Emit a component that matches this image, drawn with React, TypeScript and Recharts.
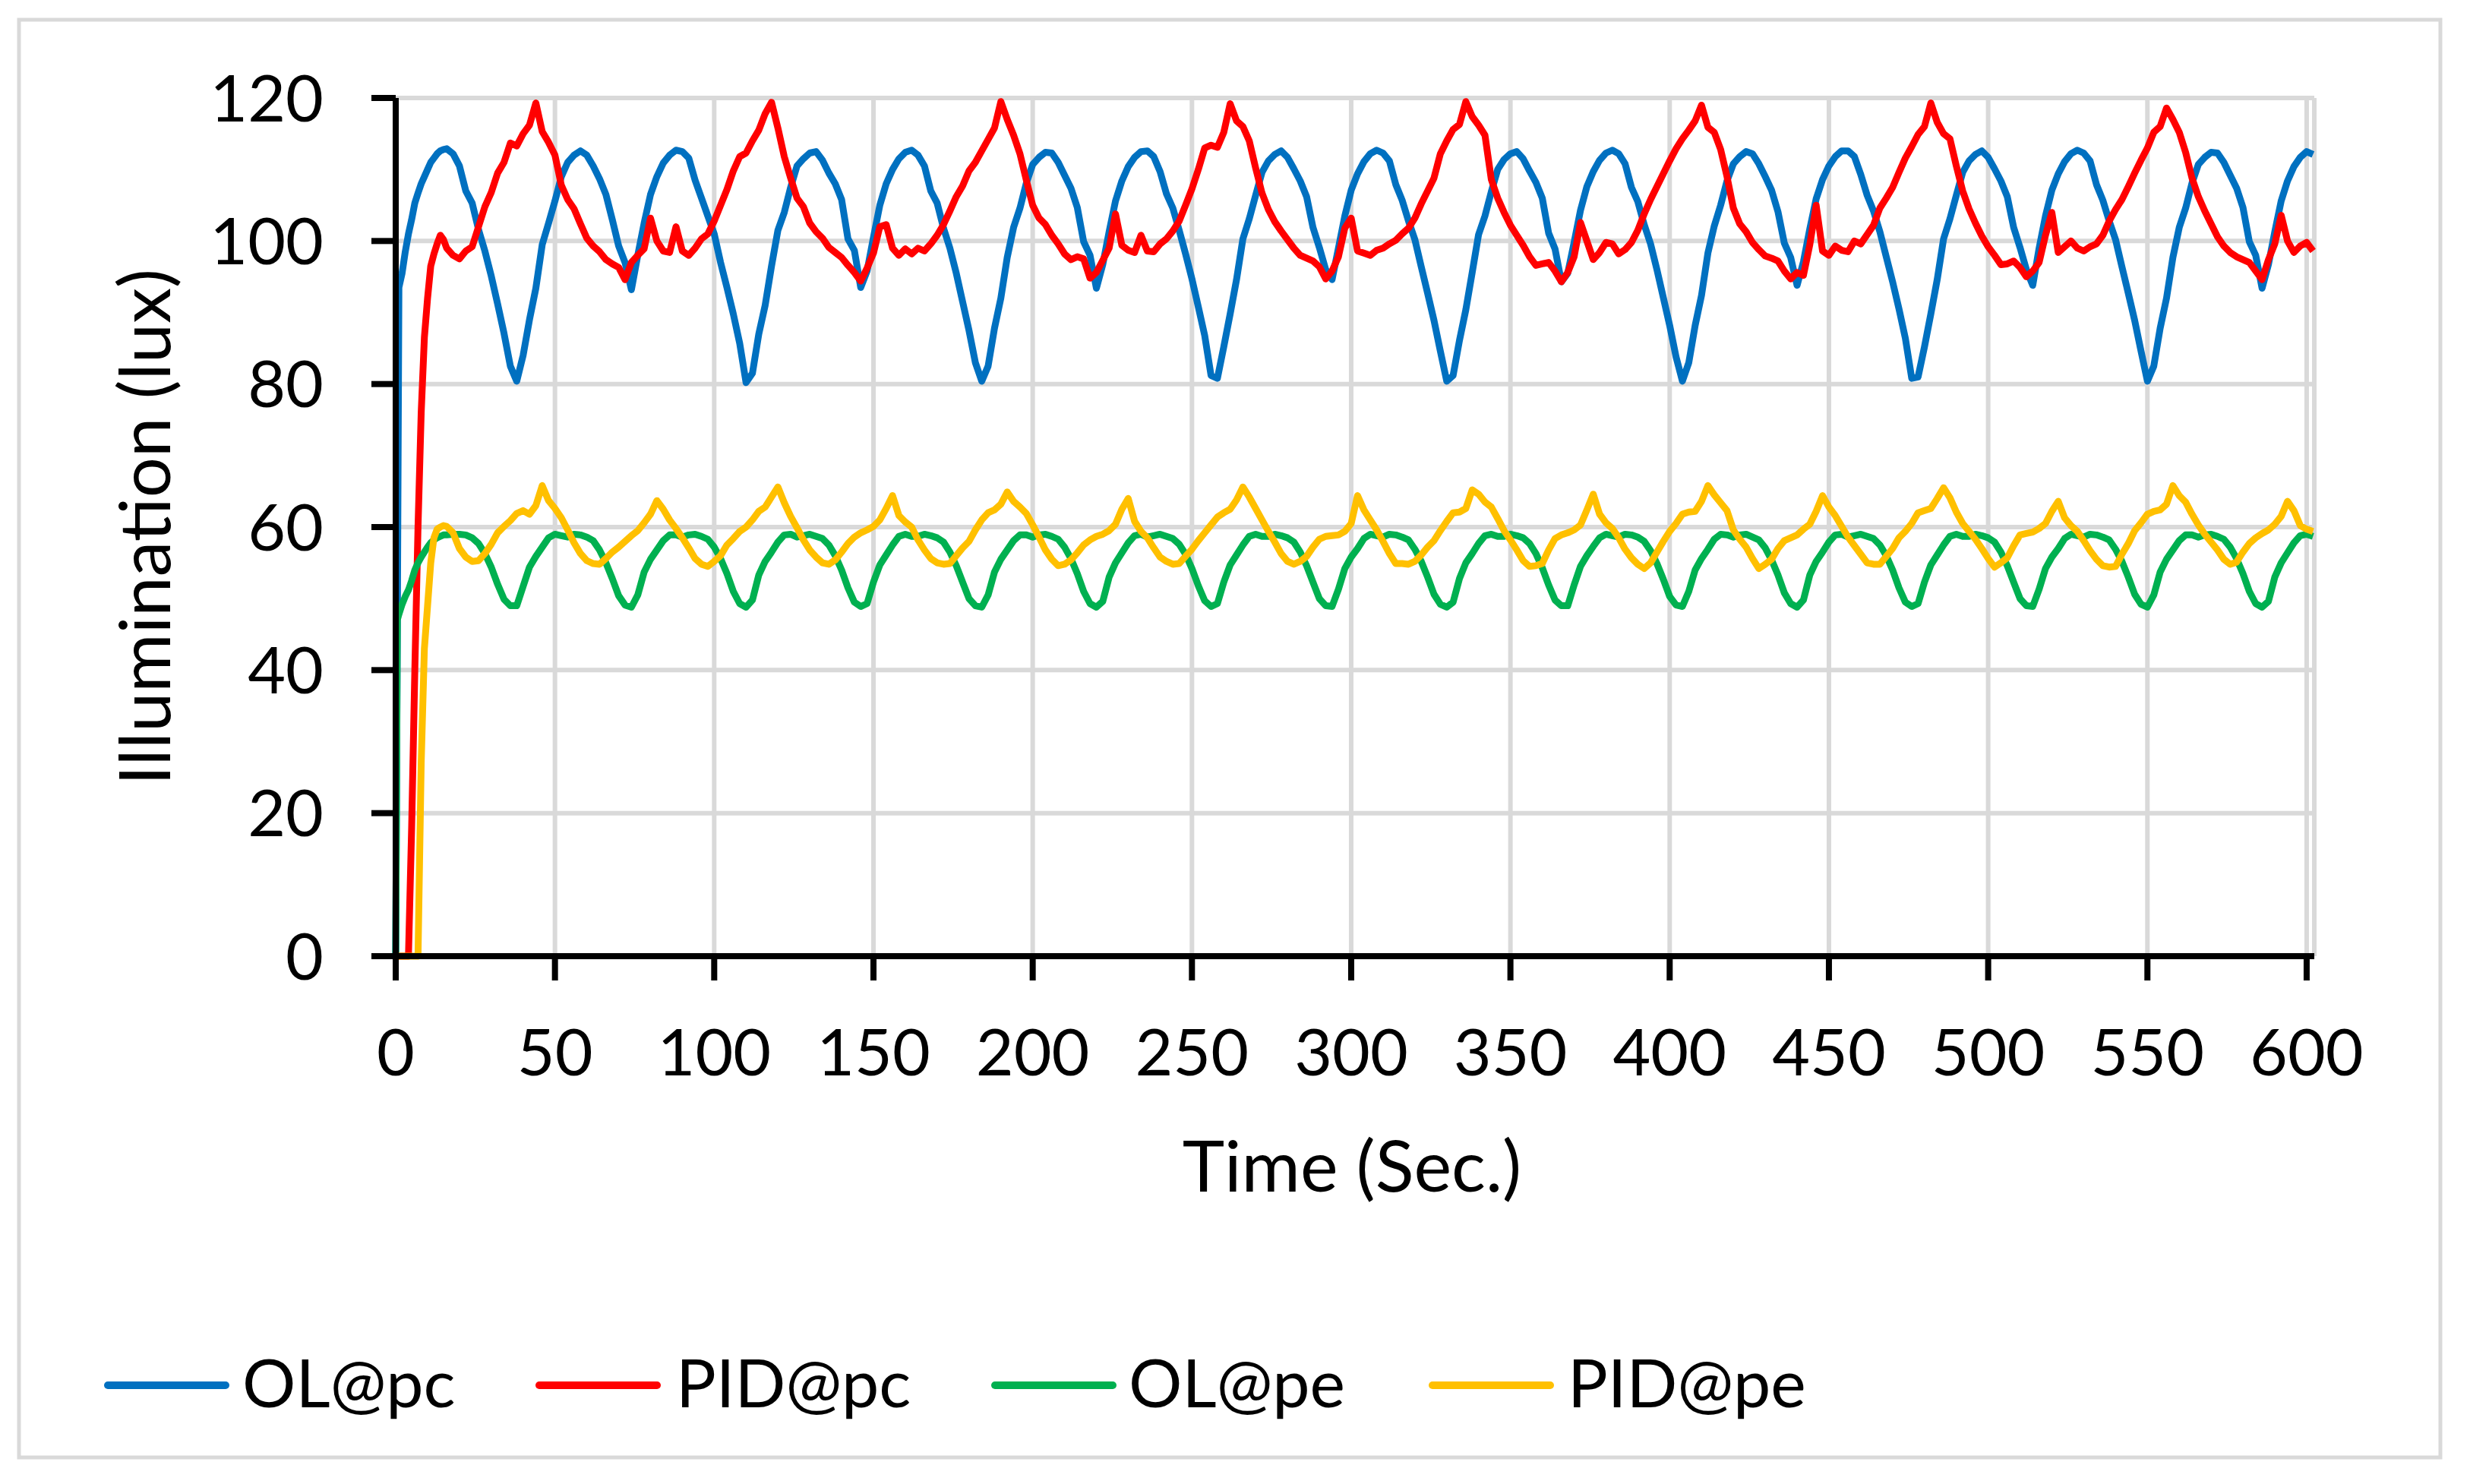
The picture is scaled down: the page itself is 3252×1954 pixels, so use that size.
import { LineChart, Line, XAxis, YAxis, CartesianGrid } from 'recharts'

const time = [
  0, 0.5, 1, 2, 3, 4, 5, 6, 7, 8, 9, 10, 11, 12, 13, 14, 15, 16,
  18, 20, 22, 24, 26, 28, 30, 32, 34, 36,
  38, 40, 42, 44, 46, 48, 50, 52, 54, 56,
  58, 60, 62, 64, 66, 68, 70, 72, 74, 76,
  78, 80, 82, 84, 86, 88, 90, 92, 94, 96,
  98, 100, 102, 104, 106, 108, 110, 112, 114, 116,
  118, 120, 122, 124, 126, 128, 130, 132, 134, 136,
  138, 140, 142, 144, 146, 148, 150, 152, 154, 156,
  158, 160, 162, 164, 166, 168, 170, 172, 174, 176,
  178, 180, 182, 184, 186, 188, 190, 192, 194, 196,
  198, 200, 202, 204, 206, 208, 210, 212, 214, 216,
  218, 220, 222, 224, 226, 228, 230, 232, 234, 236,
  238, 240, 242, 244, 246, 248, 250, 252, 254, 256,
  258, 260, 262, 264, 266, 268, 270, 272, 274, 276,
  278, 280, 282, 284, 286, 288, 290, 292, 294, 296,
  298, 300, 302, 304, 306, 308, 310, 312, 314, 316,
  318, 320, 322, 324, 326, 328, 330, 332, 334, 336,
  338, 340, 342, 344, 346, 348, 350, 352, 354, 356,
  358, 360, 362, 364, 366, 368, 370, 372, 374, 376,
  378, 380, 382, 384, 386, 388, 390, 392, 394, 396,
  398, 400, 402, 404, 406, 408, 410, 412, 414, 416,
  418, 420, 422, 424, 426, 428, 430, 432, 434, 436,
  438, 440, 442, 444, 446, 448, 450, 452, 454, 456,
  458, 460, 462, 464, 466, 468, 470, 472, 474, 476,
  478, 480, 482, 484, 486, 488, 490, 492, 494, 496,
  498, 500, 502, 504, 506, 508, 510, 512, 514, 516,
  518, 520, 522, 524, 526, 528, 530, 532, 534, 536,
  538, 540, 542, 544, 546, 548, 550, 552, 554, 556,
  558, 560, 562, 564, 566, 568, 570, 572, 574, 576,
  578, 580, 582, 584, 586, 588, 590, 592, 594, 596,
  598, 600, 602,
]

// OL@pc
const olPc = [
  0, 45, 93.5, 95.5, 98.5, 101, 103, 105.3, 106.7, 108, 109, 110, 111, 111.6, 112.2, 112.6, 112.8, 112.9,
  112.2, 110.5, 107, 105.3, 101.6, 98.6, 95.1, 91.2, 87.1, 82.5,
  80.4, 84, 89, 93.4, 99.5, 102.5, 105.6, 109, 111, 112,
  112.6, 112, 110.5, 108.7, 106.5, 103, 99.3, 97, 93.2, 98,
  102.5, 106.5, 109, 110.9, 112, 112.7, 112.5, 111.6, 108.5, 106,
  103.5, 101, 97, 93.5, 89.8, 85.7, 80.2, 81.5, 87, 91,
  96.5, 101.5, 104, 107.5, 110.5, 111.5, 112.3, 112.5, 111.3, 109.5,
  108, 105.8, 100.3, 98.7, 93.5, 95.8, 100.5, 105, 108, 110,
  111.5, 112.4, 112.7, 112, 110.5, 107, 105.3, 101.8, 99, 95.5,
  91.5, 87.5, 83, 80.4, 82.5, 87.8, 92, 97.7, 101.9, 104.6,
  108.1, 110.7, 111.7, 112.4, 112.3, 111, 109.2, 107.4, 104.7, 99.9,
  98, 93.4, 96.7, 101.3, 105.6, 108.4, 110.4, 111.7, 112.5, 112.6,
  111.8, 109.7, 106.6, 104.6, 101.5, 98.2, 94.7, 90.8, 86.8, 81.2,
  80.8, 85.2, 89.8, 94.6, 100.3, 103.1, 106.4, 109.6, 111.2, 112.1,
  112.6, 111.7, 110.1, 108.4, 106.2, 101.9, 99.1, 96, 94.6, 99,
  103.5, 107.1, 109.4, 111.1, 112.2, 112.7, 112.3, 111.2, 107.9, 105.7,
  102.8, 100.2, 96.4, 92.7, 88.9, 84.6, 80.4, 81.2, 86.1, 90.4,
  95.6, 100.9, 103.5, 106.9, 110, 111.4, 112.2, 112.5, 111.5, 109.8,
  108.2, 106, 101.1, 98.9, 94.3, 95.5, 99.8, 104.3, 107.6, 109.7,
  111.3, 112.3, 112.7, 112.2, 110.8, 107.5, 105.5, 102.3, 99.6, 96,
  92.1, 88.2, 83.8, 80.4, 83, 88.2, 92.4, 98.3, 102.1, 105,
  108.4, 110.8, 111.8, 112.5, 112.2, 110.8, 109, 107.1, 104.1, 99.7,
  97.7, 93.8, 97.1, 101.7, 105.9, 108.6, 110.5, 111.8, 112.6, 112.6,
  111.8, 109.3, 106.4, 104.2, 101.3, 97.8, 94.3, 90.5, 86.4, 80.8,
  81, 85.2, 89.8, 94.6, 100.3, 103.1, 106.4, 109.6, 111.2, 112.1,
  112.6, 111.7, 110.1, 108.4, 106.2, 101.9, 99.1, 96, 93.8, 99,
  103.5, 107.1, 109.4, 111.1, 112.2, 112.7, 112.3, 111.2, 107.9, 105.7,
  102.8, 100.2, 96.4, 92.7, 88.9, 84.6, 80.4, 82.5, 87.8, 92,
  97.7, 101.9, 104.6, 108.1, 110.7, 111.7, 112.4, 112.3, 111, 109.2,
  107.4, 104.7, 99.9, 98, 93.4, 96.7, 101.3, 105.6, 108.4, 110.4,
  111.7, 112.5, 112.1,
]

// PID@pc
const pidPc = [
  0, 0, 0, 0, 0, 0, 18, 40, 60, 76, 86.5, 92, 96.5, 98.2, 99.6, 100.8, 100.2, 99,
  98, 97.5, 98.6, 99.2, 102, 104.8, 106.8, 109.5, 111, 113.7,
  113.3, 115, 116.2, 119.3, 115.3, 113.8, 112, 107.8, 105.8, 104.5,
  102.4, 100.4, 99.3, 98.5, 97.4, 96.8, 96.3, 94.6, 97, 98,
  98.9, 103.2, 100, 98.6, 98.4, 102, 98.6, 98, 99, 100.3,
  101, 102.8, 105, 107.2, 109.8, 111.8, 112.3, 114, 115.5, 117.8,
  119.4, 115.8, 111.8, 108.8, 106, 104.8, 102.5, 101.3, 100.4, 99.1,
  98.4, 97.7, 96.6, 95.6, 94.4, 96.2, 98.3, 102, 102.3, 99,
  98, 98.9, 98.2, 99, 98.6, 99.6, 100.8, 102.3, 104.2, 106.2,
  107.7, 109.8, 111, 112.6, 114.2, 115.8, 119.5, 117, 114.8, 112.2,
  108.5, 105, 103.2, 102.3, 100.8, 99.6, 98.2, 97.4, 97.8, 97.5,
  94.8, 95.6, 97.3, 99, 103.8, 99.4, 98.7, 98.4, 100.8, 98.6,
  98.5, 99.6, 100.3, 101.4, 102.8, 105, 107.3, 110, 113, 113.4,
  113.1, 115.2, 119.2, 116.8, 116, 114, 110.2, 106.7, 104.4, 102.7,
  101.4, 100.2, 99, 98, 97.6, 97.2, 96.4, 94.7, 95.8, 97.8,
  101.8, 103.2, 98.6, 98.3, 98, 98.7, 99, 99.6, 100.1, 101,
  101.8, 103.2, 105.2, 107, 108.8, 112.2, 114, 115.6, 116.3, 119.5,
  117.4, 116.2, 114.8, 108.6, 106, 104, 102.2, 100.8, 99.4, 97.8,
  96.6, 96.8, 97, 95.8, 94.3, 95.6, 97.8, 102.6, 100, 97.4,
  98.4, 99.8, 99.6, 98.2, 98.8, 99.8, 101.5, 103.8, 105.8, 107.6,
  109.4, 111.2, 112.9, 114.3, 115.5, 116.8, 119, 115.9, 115.2, 112.8,
  109, 104.6, 102.4, 101.3, 99.8, 98.8, 97.9, 97.6, 97.2, 95.8,
  94.7, 95.6, 95.2, 99.5, 105, 98.6, 98, 99.3, 98.7, 98.5,
  100, 99.6, 100.9, 102.2, 104.6, 106, 107.5, 109.6, 111.6, 113.2,
  114.9, 116, 119.3, 116.6, 115, 114.3, 110.5, 107, 104.5, 102.5,
  100.7, 99.2, 98, 96.7, 96.8, 97.2, 96.3, 95, 95.8, 97,
  100.8, 104, 98.4, 99.2, 100, 99, 98.6, 99.2, 99.6, 100.8,
  102.8, 104.4, 105.8, 107.6, 109.5, 111.3, 113, 115.2, 116, 118.6,
  117, 115.2, 112.4, 108.8, 106.2, 104.2, 102.4, 100.6, 99.3, 98.4,
  97.8, 97.4, 97, 95.8, 94.6, 97.4, 99.6, 103.6, 100, 98.4,
  99.3, 99.8, 98.6,
]

// OL@pe
const olPe = [
  0, 47, 47.8, 49.2, 50.3, 51.2, 52.5, 54, 55, 55.8, 56.5, 57.2, 57.8, 58.2, 58.5, 58.7, 58.9, 58.9,
  59, 59, 58.9, 58.5, 57.7, 56.3, 54.4, 52, 49.9, 49,
  49, 51.7, 54.4, 55.9, 57.2, 58.5, 59, 58.8, 58.6, 59,
  58.9, 58.6, 58.1, 56.8, 55, 52.8, 50.4, 49.1, 48.8, 50.5,
  53.7, 55.5, 56.8, 58.1, 58.9, 58.9, 58.6, 58.9, 59, 58.7,
  58.3, 57.2, 55.6, 53.5, 51, 49.3, 48.8, 49.8, 53.3, 55.2,
  56.5, 57.9, 58.9, 59, 58.6, 58.8, 59, 58.7, 58.4, 57.5,
  56, 54, 51.5, 49.5, 48.9, 49.3, 52.3, 54.7, 56.1, 57.5,
  58.7, 59, 58.7, 58.7, 59, 58.8, 58.5, 57.9, 56.5, 54.6,
  52.3, 50, 49, 48.8, 50.5, 53.7, 55.5, 56.8, 58.1, 58.9,
  58.9, 58.6, 58.9, 59, 58.7, 58.3, 57.2, 55.6, 53.5, 51,
  49.3, 48.8, 49.6, 53, 55, 56.4, 57.8, 58.8, 59, 58.6,
  58.8, 59, 58.7, 58.4, 57.6, 56.2, 54.2, 51.8, 49.7, 48.9,
  49.3, 52.3, 54.7, 56.1, 57.5, 58.7, 59, 58.7, 58.7, 59,
  58.8, 58.5, 57.9, 56.5, 54.6, 52.3, 50, 49, 48.9, 51.3,
  54.2, 55.8, 57, 58.4, 59, 58.8, 58.6, 59, 58.9, 58.6,
  58.2, 56.9, 55.2, 53, 50.6, 49.2, 48.8, 49.5, 52.8, 55,
  56.3, 57.7, 58.8, 59, 58.7, 58.7, 59, 58.8, 58.5, 57.7,
  56.3, 54.3, 51.9, 49.8, 49, 49, 51.9, 54.5, 56, 57.3,
  58.5, 59, 58.8, 58.6, 59, 58.9, 58.6, 58, 56.7, 54.9,
  52.7, 50.3, 49.1, 48.9, 51, 54, 55.6, 56.9, 58.3, 59,
  58.9, 58.6, 58.9, 59, 58.6, 58.2, 57.1, 55.4, 53.3, 50.8,
  49.3, 48.8, 49.8, 53.3, 55.2, 56.5, 57.9, 58.9, 59, 58.6,
  58.8, 59, 58.7, 58.4, 57.5, 56, 54, 51.5, 49.5, 48.9,
  49.3, 52.3, 54.7, 56.1, 57.5, 58.7, 59, 58.7, 58.7, 59,
  58.8, 58.5, 57.9, 56.5, 54.6, 52.3, 50, 49, 48.9, 51.3,
  54.2, 55.8, 57, 58.4, 59, 58.8, 58.6, 59, 58.9, 58.6,
  58.2, 56.9, 55.2, 53, 50.6, 49.2, 48.8, 50.5, 53.7, 55.5,
  56.8, 58.1, 58.9, 58.9, 58.6, 58.9, 59, 58.7, 58.3, 57.2,
  55.6, 53.5, 51, 49.3, 48.8, 49.6, 53, 55, 56.4, 57.8,
  58.8, 59, 58.7,
]

// PID@pe
const pidPe = [
  0, 0, 0, 0, 0, 0, 0, 0, 0, 27, 43, 49, 55, 58.5, 59.7, 60, 60.2, 60.1,
  59.2, 57, 55.8, 55.2, 55.3, 56.3, 57.6, 59.2, 60.1, 60.9,
  61.9, 62.3, 61.8, 63, 65.8, 63.7, 62.6, 61.3, 59.6, 57.8,
  56.3, 55.3, 54.9, 54.8, 55.6, 56.5, 57.2, 58, 58.8, 59.5,
  60.6, 61.8, 63.7, 62.5, 61, 59.8, 58.5, 57.1, 55.6, 54.8,
  54.5, 55.2, 56, 57.5, 58.4, 59.4, 60, 61, 62.2, 62.8,
  64.2, 65.6, 63.4, 61.5, 59.9, 58.2, 56.8, 55.8, 55, 54.8,
  55.4, 56.5, 57.7, 58.6, 59.2, 59.6, 60.1, 61, 62.6, 64.4,
  61.6, 60.7, 60, 58.2, 56.8, 55.6, 55, 54.8, 54.9, 56,
  57.1, 58, 59.6, 61, 62, 62.4, 63.2, 64.9, 63.6, 62.8,
  61.9, 60.3, 58.6, 56.8, 55.5, 54.6, 54.8, 55.4, 56.4, 57.5,
  58.2, 58.7, 59, 59.5, 60.4, 62.5, 64, 60.8, 59.4, 58.5,
  57.1, 55.8, 55.2, 54.8, 54.9, 55.9, 56.9, 58.1, 59.2, 60.3,
  61.4, 62, 62.5, 63.8, 65.6, 64.2, 62.6, 61, 59.4, 57.9,
  56.3, 55.2, 54.8, 55.2, 55.9, 57.2, 58.3, 58.7, 58.8, 58.9,
  59.4, 60.5, 64.4, 62.4, 61, 59.6, 58, 56.3, 54.9, 54.9,
  54.8, 55.2, 56.1, 57.2, 58.1, 59.5, 60.8, 62, 62.1, 62.6,
  65.2, 64.6, 63.5, 62.8, 61.2, 59.5, 58.2, 56.8, 55.3, 54.5,
  54.6, 54.9, 56.8, 58.4, 58.9, 59.2, 59.6, 60.3, 62.4, 64.6,
  61.8, 60.6, 59.8, 58.5, 56.9, 55.7, 54.8, 54.2, 55, 56.5,
  58, 59.4, 60.5, 61.8, 62.1, 62.2, 63.6, 65.8, 64.5, 63.4,
  62.3, 59.6, 58.3, 57.2, 55.6, 54.2, 54.8, 55.5, 57, 58.1,
  58.5, 58.9, 59.7, 60.4, 62.2, 64.4, 62.8, 61.6, 60.1, 58.6,
  57.4, 56.2, 55, 54.8, 54.8, 55.9, 57, 58.5, 59.4, 60.5,
  62, 62.3, 62.6, 64, 65.5, 64.1, 62.1, 60.5, 59.4, 58.3,
  57, 55.6, 54.4, 55, 55.7, 57.4, 58.9, 59.1, 59.3, 59.8,
  60.5, 62.2, 63.6, 61.3, 60.2, 59.4, 58.1, 56.7, 55.5, 54.6,
  54.4, 54.5, 56.2, 57.7, 59.5, 60.6, 61.8, 62.2, 62.4, 63.2,
  65.8, 64.4, 63.5, 61.8, 60.3, 59, 57.9, 56.8, 55.5, 54.8,
  55.1, 56.5, 57.7, 58.5, 59.1, 59.6, 60.4, 61.5, 63.6, 62.3,
  60.2, 59.7, 59.4,
]

const xTicks = [0, 50, 100, 150, 200, 250, 300, 350, 400, 450, 500, 550, 600]
const yTicks = [0, 20, 40, 60, 80, 100, 120]

const series = [
  { key: 'olPc', name: 'OL@pc', color: '#0070C0' },
  { key: 'pidPc', name: 'PID@pc', color: '#FF0000' },
  { key: 'olPe', name: 'OL@pe', color: '#00B050' },
  { key: 'pidPe', name: 'PID@pe', color: '#FFC000' },
]

const W = 3252
const H = 1954
const FONT = 'Lato, "Open Sans", sans-serif'
const TICK_FS = 86
const TITLE_FS = 94
const LEGEND_FS = 88

// legend item left edges (line start, text start)
const legendLineX = [137, 705, 1305, 1881]
const legendTextX = [319, 890, 1486, 2064]
const legendY = 1824

const data = time.map((t, i) => ({
  t,
  olPc: olPc[i],
  pidPc: pidPc[i],
  olPe: olPe[i],
  pidPe: pidPe[i],
}))

const axisStroke = { stroke: '#000', strokeWidth: 8 }
const tickStyle = { fill: '#000', fontSize: TICK_FS, fontFamily: FONT }

const YTitle = () => (
  <text
    x={224}
    y={694}
    transform="rotate(-90 224 694)"
    textAnchor="middle"
    fontSize={TITLE_FS}
    fontFamily={FONT}
    fill="#000"
  >
    Illumination (lux)
  </text>
)

const XTitle = () => (
  <text x={1780} y={1569} textAnchor="middle" fontSize={TITLE_FS} fontFamily={FONT} fill="#000">
    Time (Sec.)
  </text>
)

export default function App() {
  return (
    <div style={{ position: 'absolute', left: 0, top: 0, width: W, height: H, background: '#fff' }}>
      <LineChart
        width={W}
        height={H}
        data={data}
        margin={{ top: 129, right: 205, bottom: 575, left: 401 }}
      >
        <CartesianGrid stroke="#D9D9D9" strokeWidth={6} />
        <XAxis
          dataKey="t"
          type="number"
          domain={[0, 602.4]}
          ticks={xTicks}
          interval={0}
          height={120}
          tickSize={32}
          tickMargin={64}
          axisLine={axisStroke}
          tickLine={axisStroke}
          tick={tickStyle}
          label={<XTitle />}
        />
        <YAxis
          type="number"
          domain={[0, 120]}
          ticks={yTicks}
          interval={0}
          width={120}
          tickSize={32}
          tickMargin={63}
          axisLine={axisStroke}
          tickLine={axisStroke}
          tick={tickStyle}
          label={<YTitle />}
        />
        {series.map((s) => (
          <Line
            key={s.key}
            type="linear"
            dataKey={s.key}
            name={s.name}
            stroke={s.color}
            strokeWidth={9}
            strokeLinejoin="round"
            dot={false}
            activeDot={false}
            isAnimationActive={false}
          />
        ))}
      </LineChart>
      <svg
        width={W}
        height={H}
        style={{ position: 'absolute', left: 0, top: 0, pointerEvents: 'none' }}
      >
        <rect x={25} y={26} width={3188} height={1893} fill="none" stroke="#D9D9D9" strokeWidth={5} />
        {series.map((s, i) => (
          <g key={s.key}>
            <line
              x1={legendLineX[i] + 5}
              x2={legendLineX[i] + 160}
              y1={legendY}
              y2={legendY}
              stroke={s.color}
              strokeWidth={10}
              strokeLinecap="round"
            />
            <text x={legendTextX[i]} y={legendY + 29} fontSize={LEGEND_FS} fontFamily={FONT} fill="#000">
              {s.name}
            </text>
          </g>
        ))}
      </svg>
    </div>
  )
}
